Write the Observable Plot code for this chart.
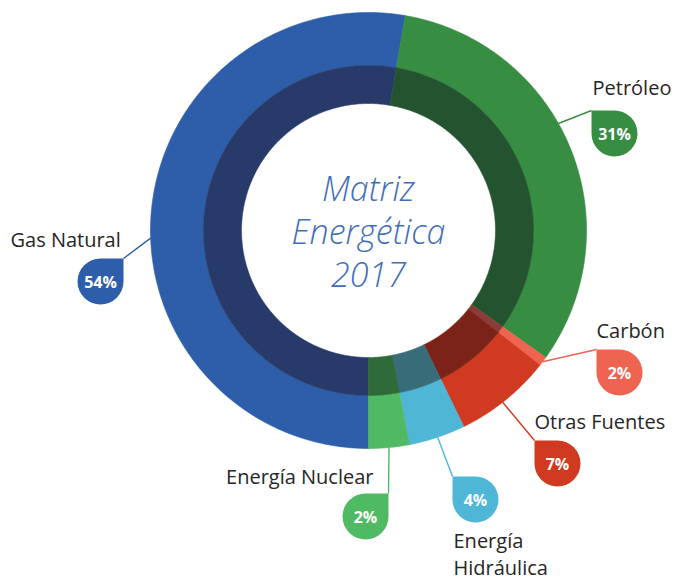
<!DOCTYPE html>
<html><head><meta charset="utf-8">
<script src="https://cdn.jsdelivr.net/npm/d3@7"></script>
<script src="https://cdn.jsdelivr.net/npm/@observablehq/plot@0.6"></script>
<style>body{margin:0;background:#fff;} #chart svg{display:block;}</style>
</head><body><div id="chart"></div>
<script>
// ---- data ----
const categories = ["Gas Natural", "Petróleo", "Carbón", "Otras Fuentes", "Energía Hidráulica", "Energía Nuclear"];
const labelLines = [["Gas Natural"], ["Petróleo"], ["Carbón"], ["Otras Fuentes"], ["Energía", "Hidráulica"], ["Energía Nuclear"]];
const shares = [52.7, 32.2, 0.7, 7.2, 4.2, 3.0];           // slice sizes as drawn
const pctLabels = ["54%", "31%", "2%", "7%", "4%", "2%"];  // printed badges
const outerColors = ["#2E5EAA", "#378D42", "#EE6451", "#D03A20", "#50B6D6", "#50B963"];
const innerColors = ["#273A6A", "#23532F", "#8A3D38", "#7B2318", "#376C78", "#2F6A3A"];
const titleLines = ["Matriz", "Energética", "2017"];

// ---- layout (pixels) ----
const W = 674, H = 580, CX = 368, CY = 230;
const R_OUT = 218, R_MID = 165, R_IN = 127, START = 180, BADGE_R = 23;
const layout = [
  {badge: [100, 281], corner: "tr", leader: 268,   label: [10, 246],  anchor: "start"},
  {badge: [614, 133], corner: "tl", leader: 60.6,  label: [592, 94],  anchor: "start"},
  {badge: [619, 372], corner: "tl", leader: 127,   label: [596, 337], anchor: "start"},
  {badge: [557, 463], corner: "tl", leader: 142,   label: [534, 428], anchor: "start"},
  {badge: [475, 499], corner: "tl", leader: 161.5, label: [453, 547], anchor: "start"},
  {badge: [365, 516], corner: "tr", leader: 174.6, label: [373, 483], anchor: "end"}
];

const rad = a => a * Math.PI / 180;
const px = (r, a) => r * Math.sin(rad(a));
const py = (r, a) => -r * Math.cos(rad(a));

// ring polygons
const total = d3.sum(shares);
const rings = [];
let a0 = START;
shares.forEach((s, i) => {
  const a1 = a0 + s / total * 360;
  [["outer", R_MID, R_OUT, outerColors[i]], ["inner", R_IN, R_MID, innerColors[i]]].forEach(([ring, r1, r2, color]) => {
    const key = categories[i] + "-" + ring;
    const n = Math.max(2, Math.ceil((a1 - a0) / 0.5));
    const pts = [];
    for (let k = 0; k <= n; k++) { const a = a0 + (a1 - a0) * k / n; pts.push({key, color, x: px(r2, a), y: py(r2, a)}); }
    for (let k = n; k >= 0; k--) { const a = a0 + (a1 - a0) * k / n; pts.push({key, color, x: px(r1, a), y: py(r1, a)}); }
    pts.push({...pts[0]});
    rings.push(...pts);
  });
  a0 = a1;
});

// badges, leaders, labels
const badges = categories.map((c, i) => {
  const L = layout[i];
  const bx = L.badge[0] - CX, by = L.badge[1] - CY;
  const cxr = L.corner === "tr" ? bx + BADGE_R : bx - BADGE_R;
  return {
    name: c, pct: pctLabels[i], color: outerColors[i], corner: L.corner,
    bx, by, cornerX: cxr, cornerY: by - BADGE_R,
    lx: px(R_OUT, L.leader), ly: py(R_OUT, L.leader)
  };
});
const labels = [];
categories.forEach((c, i) => {
  const L = layout[i];
  labelLines[i].forEach((t, j) => labels.push({text: t, x: L.label[0] - CX, y: L.label[1] - CY + j * 27, anchor: L.anchor}));
});

const dropTR = {draw(ctx, size) { const r = Math.sqrt(size / Math.PI); ctx.moveTo(r, -r); ctx.lineTo(r, 0); ctx.arc(0, 0, r, 0, 1.5 * Math.PI); ctx.closePath(); }};
const dropTL = {draw(ctx, size) { const r = Math.sqrt(size / Math.PI); ctx.moveTo(-r, -r); ctx.lineTo(0, -r); ctx.arc(0, 0, r, -0.5 * Math.PI, Math.PI); ctx.closePath(); }};

const labelStyle = {x: "x", y: "y", text: "text", fill: "#262626", fontSize: 20, lineAnchor: "bottom"};

const chart = Plot.plot({
  width: W, height: H, margin: 0,
  x: {domain: [-CX, W - CX], axis: null},
  y: {domain: [H - CY, -CY], axis: null},
  color: {type: "identity"},
  style: {fontFamily: "'Open Sans', 'Noto Sans', sans-serif", background: "#fff", overflow: "visible"},
  marks: [
    Plot.line(rings, {x: "x", y: "y", z: "key", fill: "color", stroke: "color", strokeWidth: 0.6, curve: "linear"}),
    Plot.link(badges, {x1: "lx", y1: "ly", x2: "cornerX", y2: "cornerY", stroke: "color", strokeWidth: 1.4}),
    Plot.dot(badges.filter(d => d.corner === "tr"), {x: "bx", y: "by", r: BADGE_R, fill: "color", symbol: dropTR, stroke: null}),
    Plot.dot(badges.filter(d => d.corner === "tl"), {x: "bx", y: "by", r: BADGE_R, fill: "color", symbol: dropTL, stroke: null}),
    Plot.text(badges, {x: "bx", y: "by", text: "pct", fill: "#fff", fontSize: 16, fontWeight: "bold", dy: 1}),
    Plot.text(labels.filter(d => d.anchor === "start"), {...labelStyle, textAnchor: "start"}),
    Plot.text(labels.filter(d => d.anchor === "end"), {...labelStyle, textAnchor: "end"}),
    Plot.text([{t: titleLines.join("\n")}], {x: () => 0, y: () => 0, text: "t", fill: "#3F6FB8", fontSize: 34, fontStyle: "italic", fontWeight: 300, lineHeight: 1.27, lineAnchor: "middle", dy: 0})
  ]
});
document.getElementById("chart").append(chart);
</script></body></html>
